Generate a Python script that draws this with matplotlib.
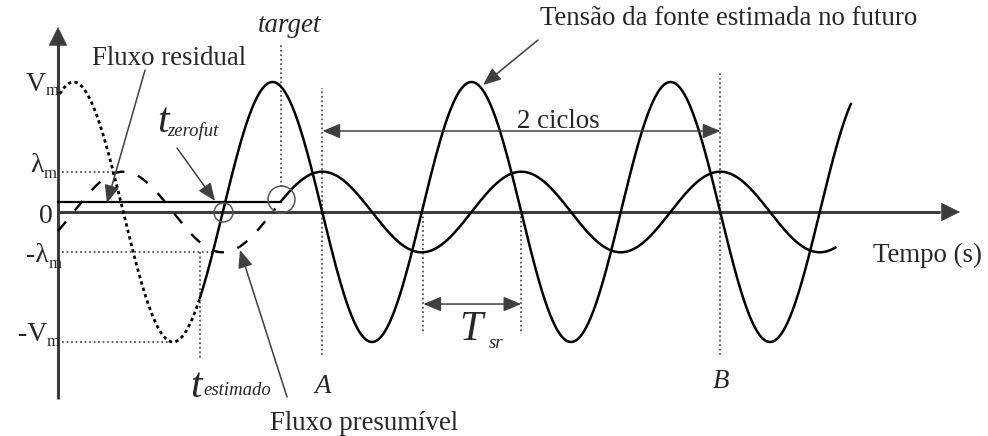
import numpy as np
import matplotlib
matplotlib.use("Agg")
import matplotlib.pyplot as plt

# ---- system quantities (time in ms at 60 Hz, voltage in per unit) ----
freq_hz = 60.0
period_ms = 1000.0 / freq_hz
v_peak = 1.0              # Vm
flux_peak = 0.31          # lambda_m, same vertical units
residual_flux = 0.08      # flux left in the core after the opening
t_voltage_crest = 1.30    # a crest of the source voltage

t_past_start = 0.15       # measured voltage (dotted) starts here
t_estimado = 11.89        # estimation instant
t_zerofut = 13.8          # next zero crossing of the estimated voltage
t_dashed_end = 18.2       # presumed flux drawn up to the target mark
t_voltage_end = 66.4
t_flux_end = 65.1
t_A = 22.15
n_cycles = 2
t_B = t_A + n_cycles * period_ms
t_sr_span = [30.6, 38.8]

# ---- curves ----
w = 2 * np.pi / period_ms
# target instant: presumed flux reaches the residual flux again
t_target = (t_voltage_crest + period_ms
            + np.arcsin(residual_flux / flux_peak) / w)

t_past = np.linspace(t_past_start, t_estimado, 300)
v_past = v_peak * np.cos(w * (t_past - t_voltage_crest))
t_fut = np.linspace(t_estimado, t_voltage_end, 1500)
v_fut = v_peak * np.cos(w * (t_fut - t_voltage_crest))
t_pres = np.linspace(0.0, t_dashed_end, 400)
flux_pres = flux_peak * np.sin(w * (t_pres - t_voltage_crest))
t_new = np.linspace(t_target, t_flux_end, 1500)
flux_new = flux_peak * np.sin(w * (t_new - t_voltage_crest))

# ---- figure ----
PX_PER_MS = 11.94
PX_PER_UNIT = 130.0
fig = plt.figure(figsize=(9.88, 4.36), dpi=100)
ax = fig.add_axes([0, 0, 1, 1])
ax.set_xlim(-58 / PX_PER_MS, (988 - 58) / PX_PER_MS)
ax.set_ylim(-(436 - 212) / PX_PER_UNIT, 212 / PX_PER_UNIT)
ax.axis("off")

axis_c = "#3c3c3c"
guide_c = "#555555"
ink = "#262626"
serif = "Liberation Serif"

# axes with arrow heads
ax.plot([0, 0], [-1.438, 1.30], color=axis_c, lw=2.2, solid_capstyle="butt")
ax.plot([0, 73.9], [0, 0], color=axis_c, lw=2.2, solid_capstyle="butt")
ax.annotate("", xy=(0, 1.423), xytext=(0, 1.28),
            arrowprops=dict(arrowstyle="-|>,head_length=0.9,head_width=0.45",
                            mutation_scale=14, color=axis_c, lw=0.5,
                            shrinkA=0, shrinkB=0))
ax.annotate("", xy=(75.54, 0), xytext=(73.5, 0),
            arrowprops=dict(arrowstyle="-|>,head_length=0.9,head_width=0.45",
                            mutation_scale=14, color=axis_c, lw=0.5,
                            shrinkA=0, shrinkB=0))

# dotted guide lines
gkw = dict(color=guide_c, lw=1.3, ls=(0, (1, 1.5)))
ax.plot([0.335, 4.77], [flux_peak, flux_peak], **gkw)
ax.plot([0.335, t_zerofut], [-flux_peak, -flux_peak], **gkw)
ax.plot([0.335, t_voltage_crest + period_ms / 2], [-v_peak, -v_peak], **gkw)
ax.plot([t_target, t_target], [0.19, 1.285], **gkw)
ax.plot([t_A, t_A], [-1.10, 0.954], **gkw)
ax.plot([t_B, t_B], [-1.10, 1.077], **gkw)
ax.plot([t_estimado, t_estimado], [-flux_peak, -1.138], **gkw)
for ts in t_sr_span:
    ax.plot([ts, ts], [0, -0.938], **gkw)

# curves
ax.plot(t_past, v_past, color="black", lw=2.0, ls=(0, (1.2, 1.2)))
ax.plot(t_fut, v_fut, color="black", lw=1.8)
ax.plot(t_pres, flux_pres, color="black", lw=1.7, ls=(0, (5.2, 6.0)))
ax.plot([0, t_target], [residual_flux, residual_flux], color="black", lw=1.6)
ax.plot(t_new, flux_new, color="black", lw=1.8)

# circles marking t_zerofut and the target point
ax.plot([t_zerofut], [0], marker="o", ms=13.7, mfc="none", mec=guide_c, mew=1.1)
ax.plot([t_target], [residual_flux + 0.02], marker="o", ms=19.4, mfc="none",
        mec=guide_c, mew=1.1)

# pointer arrows
akw = dict(arrowstyle="-|>,head_length=0.6,head_width=0.25", mutation_scale=18,
           color="#404040", lw=1.1, shrinkA=0, shrinkB=0)
ax.annotate("", xy=(4.10, 0.069), xytext=(7.29, 1.092), arrowprops=akw)
ax.annotate("", xy=(13.15, 0.085), xytext=(9.97, 0.492), arrowprops=akw)
ax.annotate("", xy=(35.6, 0.977), xytext=(40.2, 1.323), arrowprops=akw)
ax.annotate("", xy=(15.24, -0.292), xytext=(19.18, -1.423), arrowprops=akw)
dkw = dict(akw, arrowstyle="<|-|>,head_length=0.6,head_width=0.25")
ax.annotate("", xy=(t_B, 0.623), xytext=(t_A, 0.623), arrowprops=dkw)
ax.annotate("", xy=(t_sr_span[1], -0.708), xytext=(t_sr_span[0], -0.708),
            arrowprops=dkw)

# text
fs = 19.4
tkw = dict(family=serif, color=ink, va="baseline")
ax.text(2.85, 1.131, "Fluxo residual", fontsize=fs, ha="left", **tkw)
ax.text(19.39, 1.385, "target", fontsize=fs, style="italic", ha="center", **tkw)
ax.text(40.37, 1.438, "Tensão da fonte estimada no futuro", fontsize=fs,
        ha="left", **tkw)
ax.text(38.44, 0.646, "2 ciclos", fontsize=fs, ha="left", **tkw)
ax.text(68.26, -0.385, "Tempo (s)", fontsize=fs, ha="left", **tkw)
ax.text(17.76, -1.677, "Fluxo presumível", fontsize=fs, ha="left", **tkw)
ax.text(t_A, -1.392, "A", fontsize=fs, style="italic", ha="center", **tkw)
ax.text(t_B, -1.354, "B", fontsize=fs, style="italic", ha="center", **tkw)

# symbols with subscripts
big = 30
sub = 13.5
ax.text(8.29, 0.615, "t", fontsize=big, style="italic", ha="left", **tkw)
ax.text(9.13, 0.585, "zerofut", fontsize=sub, style="italic", ha="left", **tkw)
ax.text(11.06, -1.423, "t", fontsize=big, style="italic", ha="left", **tkw)
ax.text(12.14, -1.408, "estimado", fontsize=sub, style="italic", ha="left", **tkw)
ax.text(33.6, -0.985, "T", fontsize=big, style="italic", ha="left", **tkw)
ax.text(36.05, -1.045, "sr", fontsize=sub, style="italic", ha="left", **tkw)

# vertical-axis level labels
lvl = 20
msub = 12
ax.text(-1.005, 0.931, "V", fontsize=lvl, ha="right", **tkw)
ax.text(-1.005, 0.90, "m", fontsize=msub, ha="left", **tkw)
ax.text(-1.17, 0.308, "λ", fontsize=lvl, ha="right", **tkw)
ax.text(-1.17, 0.262, "m", fontsize=msub, ha="left", **tkw)
ax.text(-0.42, -0.085, "0", fontsize=lvl, ha="right", **tkw)
ax.text(-0.754, -0.385, "-λ", fontsize=lvl, ha="right", **tkw)
ax.text(-0.754, -0.431, "m", fontsize=msub, ha="left", **tkw)
ax.text(-0.92, -0.992, "-V", fontsize=lvl, ha="right", **tkw)
ax.text(-0.92, -1.03, "m", fontsize=msub, ha="left", **tkw)

fig.savefig("out.png", dpi=100, facecolor="white")
